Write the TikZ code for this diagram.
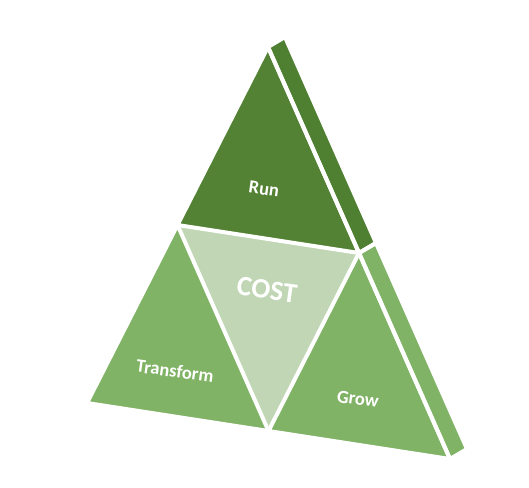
\documentclass[tikz,border=0pt]{standalone}
\usepackage{fontspec}
\setmainfont{Carlito}
\usetikzlibrary{calc}
\definecolor{rungreen}{HTML}{548235}
\definecolor{stripdark}{HTML}{4F7F31}
\definecolor{midgreen}{HTML}{80B366}
\definecolor{costgreen}{HTML}{C0D6B4}
\tikzset{
  gap/.style={draw=white, line width=4pt, line join=round},
  lbl/.style={text=white, font=\bfseries\fontsize{18.5}{22}\selectfont, rotate=-8, inner sep=0pt},
}
\begin{document}
\begin{tikzpicture}[x=1pt,y=-1pt]
\useasboundingbox (0,0) rectangle (529,487);
\coordinate (A) at (268,47);
\coordinate (B) at (87,403);
\coordinate (C) at (450,459);
\coordinate (AB) at ($(A)!0.5!(B)$);
\coordinate (AC) at ($(A)!0.5!(C)$);
\coordinate (BC) at ($(B)!0.5!(C)$);
\coordinate (A2) at ($(A)+(17,-10)$);
\coordinate (AC2) at ($(AC)+(17,-10)$);
\coordinate (C2) at ($(C)+(17,-10)$);
% fills
\fill[rungreen] (A) -- (AB) -- (AC) -- cycle;
\fill[midgreen] (AB) -- (B) -- (BC) -- cycle;
\fill[midgreen] (AC) -- (BC) -- (C) -- cycle;
\fill[costgreen] (AB) -- (AC) -- (BC) -- cycle;
\fill[stripdark] (A) -- (A2) -- (AC2) -- (AC) -- cycle;
\fill[midgreen] (AC) -- (AC2) -- (C2) -- (C) -- cycle;
% white gaps
\draw[gap] (A) -- (AB) -- (AC) -- cycle;
\draw[gap] (AB) -- (B) -- (BC) -- cycle;
\draw[gap] (AC) -- (BC) -- (C) -- cycle;
\draw[gap] (A) -- (A2) -- (AC2) -- (AC) -- cycle;
\draw[gap] (AC) -- (AC2) -- (C2) -- (C) -- cycle;
% labels
\node[lbl] (run) at (264,189) {Run};
\node[lbl, font=\bfseries\fontsize{28}{32}\selectfont] (cost) at (267,290) {COST};
\node[lbl] (transform) at (175,371) {Transform};
\node[lbl] (grow) at (358,399) {Grow};
\end{tikzpicture}
\end{document}
